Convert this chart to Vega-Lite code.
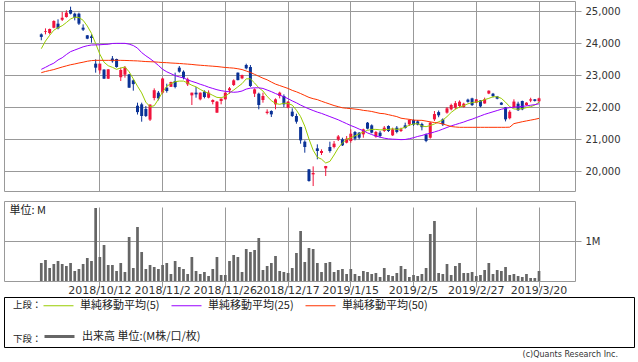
{
"$schema": "https://vega.github.io/schema/vega-lite/v6.json",
"padding": {"left": 3, "top": 0, "right": 0, "bottom": 0},
"background": "white",
"datasets": {"k": [
{"d":"2018/9/20","o":24270,"h":24300,"l":24085,"c":24190,"v":0.45,"m5":23822,"m25":23177,"m50":23073},
{"d":"2018/9/21","o":24355,"h":24458,"l":24270,"c":24375,"v":0.525,"m5":24060,"m25":23240,"m50":23110},
{"d":"2018/9/25","o":24312,"h":24450,"l":24270,"c":24437,"v":0.325,"m5":24240,"m25":23310,"m50":23140},
{"d":"2018/9/26","o":24479,"h":24710,"l":24460,"c":24687,"v":0.425,"m5":24400,"m25":23370,"m50":23170},
{"d":"2018/9/27","o":24604,"h":24740,"l":24427,"c":24458,"v":0.5,"m5":24480,"m25":23470,"m50":23210},
{"d":"2018/9/28","o":24729,"h":24968,"l":24687,"c":24792,"v":0.425,"m5":24540,"m25":23540,"m50":23250},
{"d":"2018/10/1","o":24812,"h":25021,"l":24792,"c":24948,"v":0.375,"m5":24640,"m25":23640,"m50":23285},
{"d":"2018/10/2","o":25031,"h":25135,"l":24895,"c":24916,"v":0.45,"m5":24750,"m25":23730,"m50":23320},
{"d":"2018/10/3","o":24916,"h":24948,"l":24708,"c":24792,"v":0.25,"m5":24810,"m25":23780,"m50":23345},
{"d":"2018/10/4","o":24916,"h":24948,"l":24562,"c":24604,"v":0.3,"m5":24795,"m25":23830,"m50":23375},
{"d":"2018/10/5","o":24479,"h":24583,"l":24375,"c":24416,"v":0.425,"m5":24710,"m25":23880,"m50":23400},
{"d":"2018/10/9","o":24240,"h":24250,"l":24120,"c":24135,"v":0.575,"m5":24530,"m25":23915,"m50":23430},
{"d":"2018/10/10","o":24208,"h":24270,"l":24010,"c":24156,"v":0.5,"m5":24300,"m25":23937,"m50":23450},
{"d":"2018/10/11","o":23354,"h":23489,"l":23073,"c":23229,"v":1.825,"m5":23980,"m25":23940,"m50":23458},
{"d":"2018/10/12","o":23145,"h":23354,"l":23041,"c":23354,"v":0.6,"m5":23650,"m25":23945,"m50":23458},
{"d":"2018/10/15","o":23170,"h":23177,"l":22875,"c":22885,"v":0.9,"m5":23400,"m25":23955,"m50":23458},
{"d":"2018/10/16","o":22885,"h":23185,"l":22875,"c":23177,"v":0.4,"m5":23290,"m25":23960,"m50":23458},
{"d":"2018/10/17","o":23515,"h":23593,"l":23385,"c":23430,"v":0.4,"m5":23240,"m25":23985,"m50":23458},
{"d":"2018/10/18","o":23500,"h":23510,"l":23229,"c":23250,"v":0.25,"m5":23177,"m25":23989,"m50":23458},
{"d":"2018/10/19","o":22930,"h":23229,"l":22812,"c":23156,"v":0.45,"m5":23220,"m25":23989,"m50":23458},
{"d":"2018/10/22","o":23010,"h":23281,"l":22916,"c":23229,"v":0.225,"m5":23250,"m25":23989,"m50":23455},
{"d":"2018/10/23","o":23020,"h":23030,"l":22595,"c":22604,"v":1.1,"m5":23100,"m25":23965,"m50":23450},
{"d":"2018/10/24","o":22833,"h":22864,"l":22510,"c":22715,"v":0.325,"m5":22880,"m25":23920,"m50":23445},
{"d":"2018/10/25","o":22040,"h":22135,"l":21765,"c":21840,"v":1.35,"m5":22650,"m25":23840,"m50":23440},
{"d":"2018/10/26","o":22083,"h":22135,"l":21541,"c":21718,"v":0.725,"m5":22440,"m25":23700,"m50":23430},
{"d":"2018/10/29","o":21940,"h":22031,"l":21687,"c":21718,"v":0.3,"m5":22150,"m25":23600,"m50":23420},
{"d":"2018/10/30","o":21605,"h":22083,"l":21562,"c":22075,"v":0.4,"m5":22010,"m25":23510,"m50":23415},
{"d":"2018/10/31","o":22280,"h":22583,"l":22208,"c":22525,"v":0.35,"m5":22040,"m25":23410,"m50":23410},
{"d":"2018/11/1","o":22448,"h":22500,"l":22208,"c":22270,"v":0.3,"m5":22240,"m25":23300,"m50":23400},
{"d":"2018/11/2","o":22448,"h":22916,"l":22416,"c":22890,"v":0.4,"m5":22470,"m25":23180,"m50":23390},
{"d":"2018/11/5","o":22604,"h":22729,"l":22448,"c":22500,"v":0.45,"m5":22650,"m25":23100,"m50":23385},
{"d":"2018/11/6","o":22630,"h":22791,"l":22630,"c":22781,"v":0.175,"m5":22730,"m25":23041,"m50":23375},
{"d":"2018/11/7","o":22812,"h":23073,"l":22583,"c":22625,"v":0.5,"m5":22790,"m25":22980,"m50":23368},
{"d":"2018/11/8","o":23229,"h":23281,"l":23073,"c":23104,"v":0.35,"m5":22810,"m25":22940,"m50":23360},
{"d":"2018/11/9","o":23104,"h":23145,"l":22864,"c":22916,"v":0.3,"m5":22810,"m25":22910,"m50":23350},
{"d":"2018/11/12","o":22708,"h":22916,"l":22656,"c":22864,"v":0.175,"m5":22750,"m25":22850,"m50":23340},
{"d":"2018/11/13","o":22364,"h":22448,"l":22062,"c":22448,"v":0.6,"m5":22680,"m25":22800,"m50":23330},
{"d":"2018/11/14","o":22448,"h":22625,"l":22291,"c":22395,"v":0.25,"m5":22630,"m25":22760,"m50":23315},
{"d":"2018/11/15","o":22239,"h":22455,"l":22208,"c":22448,"v":0.175,"m5":22550,"m25":22710,"m50":23305},
{"d":"2018/11/16","o":22479,"h":22520,"l":22270,"c":22312,"v":0.225,"m5":22480,"m25":22670,"m50":23295},
{"d":"2018/11/19","o":22291,"h":22520,"l":22270,"c":22448,"v":0.125,"m5":22430,"m25":22620,"m50":23285},
{"d":"2018/11/20","o":22156,"h":22239,"l":22083,"c":22218,"v":0.3,"m5":22364,"m25":22580,"m50":23275},
{"d":"2018/11/21","o":21823,"h":22187,"l":21815,"c":22166,"v":0.6,"m5":22300,"m25":22540,"m50":23265},
{"d":"2018/11/22","o":22187,"h":22265,"l":22083,"c":22260,"v":0.15,"m5":22291,"m25":22510,"m50":23250},
{"d":"2018/11/26","o":22239,"h":22455,"l":22235,"c":22448,"v":0.15,"m5":22330,"m25":22490,"m50":23235},
{"d":"2018/11/27","o":22520,"h":22625,"l":22416,"c":22583,"v":0.5,"m5":22440,"m25":22475,"m50":23225},
{"d":"2018/11/28","o":22687,"h":22864,"l":22656,"c":22833,"v":0.65,"m5":22530,"m25":22460,"m50":23215},
{"d":"2018/11/29","o":23073,"h":23080,"l":22833,"c":22840,"v":0.6,"m5":22630,"m25":22470,"m50":23195},
{"d":"2018/11/30","o":22895,"h":23010,"l":22870,"c":23000,"v":0.225,"m5":22730,"m25":22500,"m50":23170},
{"d":"2018/12/3","o":23312,"h":23354,"l":23177,"c":23208,"v":0.8,"m5":22880,"m25":22560,"m50":23125},
{"d":"2018/12/4","o":23250,"h":23312,"l":22625,"c":22656,"v":0.725,"m5":22880,"m25":22590,"m50":23080},
{"d":"2018/12/5","o":22416,"h":22583,"l":22312,"c":22552,"v":0.775,"m5":22750,"m25":22600,"m50":23020},
{"d":"2018/12/6","o":22416,"h":22448,"l":21927,"c":22062,"v":1.075,"m5":22600,"m25":22600,"m50":22960},
{"d":"2018/12/7","o":22218,"h":22448,"l":22135,"c":22343,"v":0.275,"m5":22500,"m25":22580,"m50":22900},
{"d":"2018/12/10","o":21812,"h":21927,"l":21770,"c":21854,"v":0.375,"m5":22330,"m25":22530,"m50":22850},
{"d":"2018/12/11","o":21875,"h":21896,"l":21687,"c":21770,"v":0.45,"m5":22200,"m25":22480,"m50":22780},
{"d":"2018/12/12","o":22083,"h":22270,"l":21927,"c":22239,"v":0.625,"m5":22110,"m25":22420,"m50":22715},
{"d":"2018/12/13","o":22343,"h":22479,"l":22270,"c":22448,"v":0.25,"m5":22083,"m25":22370,"m50":22670},
{"d":"2018/12/14","o":22343,"h":22395,"l":22000,"c":22083,"v":0.225,"m5":22120,"m25":22320,"m50":22625},
{"d":"2018/12/17","o":21979,"h":22187,"l":21958,"c":22166,"v":0.2,"m5":22110,"m25":22260,"m50":22580},
{"d":"2018/12/18","o":21854,"h":21958,"l":21687,"c":21718,"v":0.325,"m5":22060,"m25":22190,"m50":22520},
{"d":"2018/12/19","o":21718,"h":21791,"l":21479,"c":21541,"v":0.7,"m5":21900,"m25":22130,"m50":22475},
{"d":"2018/12/20","o":21375,"h":21380,"l":20854,"c":20958,"v":1.25,"m5":21700,"m25":22060,"m50":22420},
{"d":"2018/12/21","o":20916,"h":20958,"l":20572,"c":20750,"v":0.475,"m5":21400,"m25":22000,"m50":22360},
{"d":"2018/12/25","o":20052,"h":20060,"l":19666,"c":19687,"v":0.825,"m5":21000,"m25":21940,"m50":22300},
{"d":"2018/12/26","o":19895,"h":20145,"l":19530,"c":19937,"v":0.8,"m5":20650,"m25":21890,"m50":22260},
{"d":"2018/12/27","o":20708,"h":20833,"l":20364,"c":20625,"v":0.45,"m5":20430,"m25":21840,"m50":22230},
{"d":"2018/12/28","o":20562,"h":20677,"l":20500,"c":20625,"v":0.225,"m5":20370,"m25":21800,"m50":22180},
{"d":"2019/1/4","o":20083,"h":20160,"l":19843,"c":20156,"v":0.45,"m5":20250,"m25":21750,"m50":22135},
{"d":"2019/1/7","o":20750,"h":20916,"l":20572,"c":20625,"v":0.475,"m5":20300,"m25":21700,"m50":22090},
{"d":"2019/1/8","o":20750,"h":20937,"l":20708,"c":20854,"v":0.225,"m5":20500,"m25":21650,"m50":22045},
{"d":"2019/1/9","o":20980,"h":21125,"l":20937,"c":21080,"v":0.275,"m5":20720,"m25":21600,"m50":22010},
{"d":"2019/1/10","o":20989,"h":21041,"l":20781,"c":20802,"v":0.3,"m5":20880,"m25":21540,"m50":21975},
{"d":"2019/1/11","o":20885,"h":21093,"l":20864,"c":21010,"v":0.175,"m5":20990,"m25":21480,"m50":21960},
{"d":"2019/1/15","o":20937,"h":21302,"l":20885,"c":21166,"v":0.3,"m5":21040,"m25":21420,"m50":21950},
{"d":"2019/1/16","o":21218,"h":21250,"l":20958,"c":21010,"v":0.175,"m5":21100,"m25":21370,"m50":21935},
{"d":"2019/1/17","o":21198,"h":21218,"l":20989,"c":21041,"v":0.125,"m5":21160,"m25":21310,"m50":21920},
{"d":"2019/1/18","o":21145,"h":21323,"l":21041,"c":21302,"v":0.25,"m5":21220,"m25":21260,"m50":21895},
{"d":"2019/1/21","o":21510,"h":21531,"l":21302,"c":21323,"v":0.225,"m5":21270,"m25":21190,"m50":21880},
{"d":"2019/1/22","o":21427,"h":21458,"l":21177,"c":21198,"v":0.175,"m5":21300,"m25":21140,"m50":21860},
{"d":"2019/1/23","o":21073,"h":21250,"l":21041,"c":21218,"v":0.2,"m5":21300,"m25":21093,"m50":21830},
{"d":"2019/1/24","o":21198,"h":21250,"l":21041,"c":21093,"v":0.1,"m5":21285,"m25":21060,"m50":21800},
{"d":"2019/1/25","o":21250,"h":21406,"l":21218,"c":21354,"v":0.325,"m5":21290,"m25":21025,"m50":21790},
{"d":"2019/1/28","o":21406,"h":21427,"l":21218,"c":21250,"v":0.15,"m5":21300,"m25":21005,"m50":21760},
{"d":"2019/1/29","o":21114,"h":21354,"l":21093,"c":21302,"v":0.125,"m5":21320,"m25":20995,"m50":21730},
{"d":"2019/1/30","o":21354,"h":21406,"l":21177,"c":21218,"v":0.2,"m5":21300,"m25":20989,"m50":21700},
{"d":"2019/1/31","o":21250,"h":21354,"l":21218,"c":21302,"v":0.375,"m5":21320,"m25":20980,"m50":21650},
{"d":"2019/2/1","o":21427,"h":21510,"l":21323,"c":21343,"v":0.3,"m5":21370,"m25":20985,"m50":21630},
{"d":"2019/2/4","o":21458,"h":21614,"l":21406,"c":21593,"v":0.1,"m5":21430,"m25":21010,"m50":21614},
{"d":"2019/2/5","o":21593,"h":21614,"l":21406,"c":21450,"v":0.15,"m5":21470,"m25":21040,"m50":21590},
{"d":"2019/2/6","o":21550,"h":21593,"l":21427,"c":21450,"v":0.125,"m5":21480,"m25":21080,"m50":21585},
{"d":"2019/2/7","o":21470,"h":21510,"l":21270,"c":21370,"v":0.175,"m5":21406,"m25":21110,"m50":21583},
{"d":"2019/2/8","o":21140,"h":21170,"l":20900,"c":20940,"v":0.325,"m5":21385,"m25":21150,"m50":21560},
{"d":"2019/2/12","o":21040,"h":21540,"l":21010,"c":21510,"v":1.175,"m5":21420,"m25":21180,"m50":21535},
{"d":"2019/2/13","o":21614,"h":21875,"l":21560,"c":21780,"v":1.5,"m5":21470,"m25":21220,"m50":21515},
{"d":"2019/2/14","o":21840,"h":21890,"l":21680,"c":21740,"v":0.2,"m5":21540,"m25":21260,"m50":21500},
{"d":"2019/2/15","o":21614,"h":21645,"l":21406,"c":21458,"v":0.175,"m5":21590,"m25":21310,"m50":21470},
{"d":"2019/2/18","o":21823,"h":22000,"l":21791,"c":21958,"v":0.425,"m5":21700,"m25":21360,"m50":21430},
{"d":"2019/2/19","o":21927,"h":22104,"l":21895,"c":22062,"v":0.15,"m5":21830,"m25":21410,"m50":21390},
{"d":"2019/2/20","o":21979,"h":22187,"l":21927,"c":22120,"v":0.375,"m5":21930,"m25":21450,"m50":21375},
{"d":"2019/2/21","o":22031,"h":22208,"l":21979,"c":22166,"v":0.45,"m5":22000,"m25":21490,"m50":21365},
{"d":"2019/2/22","o":22000,"h":22135,"l":21980,"c":22104,"v":0.2,"m5":22040,"m25":21530,"m50":21365},
{"d":"2019/2/25","o":22230,"h":22260,"l":22135,"c":22160,"v":0.2,"m5":22100,"m25":21580,"m50":21365},
{"d":"2019/2/26","o":22270,"h":22290,"l":22031,"c":22060,"v":0.225,"m5":22135,"m25":21620,"m50":21365},
{"d":"2019/2/27","o":22135,"h":22250,"l":22120,"c":22240,"v":0.125,"m5":22160,"m25":21670,"m50":21365},
{"d":"2019/2/28","o":22208,"h":22215,"l":21990,"c":22020,"v":0.15,"m5":22180,"m25":21720,"m50":21365},
{"d":"2019/3/1","o":22110,"h":22292,"l":22104,"c":22240,"v":0.275,"m5":22230,"m25":21770,"m50":21365},
{"d":"2019/3/4","o":22420,"h":22520,"l":22400,"c":22510,"v":0.45,"m5":22270,"m25":21810,"m50":21365},
{"d":"2019/3/5","o":22416,"h":22440,"l":22300,"c":22340,"v":0.175,"m5":22320,"m25":21850,"m50":21365},
{"d":"2019/3/6","o":22330,"h":22345,"l":22240,"c":22260,"v":0.275,"m5":22320,"m25":21890,"m50":21365},
{"d":"2019/3/7","o":22135,"h":22150,"l":22060,"c":22070,"v":0.25,"m5":22270,"m25":21930,"m50":21365},
{"d":"2019/3/8","o":21990,"h":22000,"l":21550,"c":21614,"v":0.35,"m5":22150,"m25":21960,"m50":21365},
{"d":"2019/3/11","o":21650,"h":21900,"l":21614,"c":21850,"v":0.15,"m5":22010,"m25":21980,"m50":21370},
{"d":"2019/3/12","o":22000,"h":22240,"l":21969,"c":22170,"v":0.175,"m5":21940,"m25":21995,"m50":21480},
{"d":"2019/3/13","o":22104,"h":22166,"l":21875,"c":21900,"v":0.125,"m5":21930,"m25":22005,"m50":21510},
{"d":"2019/3/14","o":22187,"h":22200,"l":21900,"c":21927,"v":0.1,"m5":21950,"m25":22020,"m50":21540},
{"d":"2019/3/15","o":22062,"h":22150,"l":22040,"c":22135,"v":0.175,"m5":21980,"m25":22035,"m50":21565},
{"d":"2019/3/18","o":22200,"h":22290,"l":22150,"c":22240,"v":0.075,"m5":22010,"m25":22055,"m50":21590},
{"d":"2019/3/19","o":22240,"h":22250,"l":22170,"c":22190,"v":0.075,"m5":22060,"m25":22075,"m50":21615},
{"d":"2019/3/20","o":22180,"h":22290,"l":22160,"c":22270,"v":0.25,"m5":22150,"m25":22100,"m50":21645}
]},
"config": {
  "font": "DejaVu Sans",
  "view": {"stroke": "#999999", "strokeWidth": 1},
  "axis": {"gridColor": "#999999", "gridOpacity": 1, "gridWidth": 1, "tickColor": "#999999", "domainColor": "#999999", "labelColor": "#333333", "labelFont": "DejaVu Sans"},
  "legend": {"orient": "none", "direction": "horizontal", "titleOrient": "left", "titleAnchor": "middle", "titleBaseline": "middle", "symbolType": "stroke", "padding": 0, "labelOffset": 6, "columnPadding": 9, "titlePadding": 1, "labelFont": "Noto Sans CJK JP", "labelFontSize": 11, "labelColor": "#222222", "titleFont": "Noto Sans CJK JP", "titleFontSize": 9.5, "titleFontWeight": "normal", "titleColor": "#222222"}
},
"bounds": "flush",
"spacing": 10,
"resolve": {"scale": {"color": "independent", "y": "independent"}, "legend": {"color": "independent"}},
"vconcat": [
{
  "width": 571, "height": 190,
  "data": {"name": "k"},
  "encoding": {
    "x": {"field": "d", "type": "ordinal", "sort": null,
          "scale": {"type": "band", "paddingInner": 0, "paddingOuter": 0.26, "align": 0.8,
            "domain": ["L1","L2","L3","L4","L5","L6","L7","L8","2018/9/20","2018/9/21","2018/9/25","2018/9/26","2018/9/27","2018/9/28","2018/10/1","2018/10/2","2018/10/3","2018/10/4","2018/10/5","2018/10/9","2018/10/10","2018/10/11","2018/10/12","2018/10/15","2018/10/16","2018/10/17","2018/10/18","2018/10/19","2018/10/22","2018/10/23","2018/10/24","2018/10/25","2018/10/26","2018/10/29","2018/10/30","2018/10/31","2018/11/1","2018/11/2","2018/11/5","2018/11/6","2018/11/7","2018/11/8","2018/11/9","2018/11/12","2018/11/13","2018/11/14","2018/11/15","2018/11/16","2018/11/19","2018/11/20","2018/11/21","2018/11/22","2018/11/26","2018/11/27","2018/11/28","2018/11/29","2018/11/30","2018/12/3","2018/12/4","2018/12/5","2018/12/6","2018/12/7","2018/12/10","2018/12/11","2018/12/12","2018/12/13","2018/12/14","2018/12/17","2018/12/18","2018/12/19","2018/12/20","2018/12/21","2018/12/25","2018/12/26","2018/12/27","2018/12/28","2019/1/4","2019/1/7","2019/1/8","2019/1/9","2019/1/10","2019/1/11","2019/1/15","2019/1/16","2019/1/17","2019/1/18","2019/1/21","2019/1/22","2019/1/23","2019/1/24","2019/1/25","2019/1/28","2019/1/29","2019/1/30","2019/1/31","2019/2/1","2019/2/4","2019/2/5","2019/2/6","2019/2/7","2019/2/8","2019/2/12","2019/2/13","2019/2/14","2019/2/15","2019/2/18","2019/2/19","2019/2/20","2019/2/21","2019/2/22","2019/2/25","2019/2/26","2019/2/27","2019/2/28","2019/3/1","2019/3/4","2019/3/5","2019/3/6","2019/3/7","2019/3/8","2019/3/11","2019/3/12","2019/3/13","2019/3/14","2019/3/15","2019/3/18","2019/3/19","2019/3/20","R1","R2","R3","R4","R5","R6","R7","R8"]},
          "axis": {"orient": "bottom", "values": ["2018/10/12","2018/11/2","2018/11/26","2018/12/17","2019/1/15","2019/2/5","2019/2/27","2019/3/20"], "grid": true, "labels": false, "ticks": false, "domain": false, "title": null, "bandPosition": 0.5}}
  },
  "layer": [
    {"mark": {"type": "rule", "strokeWidth": 1},
     "encoding": {
       "y": {"field": "l", "type": "quantitative", "title": null, "scale": {"domain": [19375, 25312.5], "zero": false, "nice": false},
             "axis": {"orient": "right", "values": [20000, 21000, 22000, 23000, 24000, 25000], "format": ",d", "grid": true, "tickSize": 6, "domain": false, "labelFontSize": 10, "labelPadding": 4, "labelOverlap": false, "labelBound": false, "title": null}},
       "y2": {"field": "h"},
       "color": {"condition": {"test": "datum.c >= datum.o", "value": "#f0143c"}, "value": "#0a3296"}
     }},
    {"mark": {"type": "bar", "width": {"band": 0.72}},
     "encoding": {
       "y": {"field": "o", "type": "quantitative", "title": null,
             "axis": {"orient": "right", "values": [20000, 21000, 22000, 23000, 24000, 25000], "format": ",d", "grid": true, "tickSize": 6, "domain": false, "labelFontSize": 10, "labelPadding": 4, "labelOverlap": false, "labelBound": false, "title": null}},
       "y2": {"field": "c"},
       "color": {"condition": {"test": "datum.c >= datum.o", "value": "#f0143c"}, "value": "#0a3296"}
     }},
    {"mark": {"type": "line", "strokeWidth": 1},
     "encoding": {
       "y": {"field": "m5", "type": "quantitative", "title": null,
             "axis": {"orient": "right", "values": [20000, 21000, 22000, 23000, 24000, 25000], "format": ",d", "grid": true, "tickSize": 6, "domain": false, "labelFontSize": 10, "labelPadding": 4, "labelOverlap": false, "labelBound": false, "title": null}},
       "color": {"datum": "単純移動平均(5)",
         "scale": {"domain": ["単純移動平均(5)", "単純移動平均(25)", "単純移動平均(50)"], "range": ["#99cc00", "#9900ff", "#ff3300"]},
         "legend": {"title": "上段：", "legendX": 9, "legendY": 289, "symbolSize": 900, "symbolStrokeWidth": 1,
           "encode": {"title": {"update": {"dy": {"value": 5}}}}}}
     }},
    {"mark": {"type": "line", "strokeWidth": 1},
     "encoding": {
       "y": {"field": "m25", "type": "quantitative", "title": null,
             "axis": {"orient": "right", "values": [20000, 21000, 22000, 23000, 24000, 25000], "format": ",d", "grid": true, "tickSize": 6, "domain": false, "labelFontSize": 10, "labelPadding": 4, "labelOverlap": false, "labelBound": false, "title": null}},
       "color": {"datum": "単純移動平均(25)"}
     }},
    {"mark": {"type": "line", "strokeWidth": 1},
     "encoding": {
       "y": {"field": "m50", "type": "quantitative", "title": null,
             "axis": {"orient": "right", "values": [20000, 21000, 22000, 23000, 24000, 25000], "format": ",d", "grid": true, "tickSize": 6, "domain": false, "labelFontSize": 10, "labelPadding": 4, "labelOverlap": false, "labelBound": false, "title": null}},
       "color": {"datum": "単純移動平均(50)"}
     }}
  ]
},
{
  "width": 571, "height": 86,
  "data": {"name": "k"},
  "view": {"stroke": null},
  "resolve": {"axis": {"x": "independent", "y": "independent"}},
  "layer": [
    {"mark": {"type": "bar", "width": {"band": 0.65}},
     "encoding": {
       "x": {"field": "d", "type": "ordinal", "sort": null,
             "scale": {"type": "band", "paddingInner": 0, "paddingOuter": 0.26, "align": 0.8,
               "domain": ["L1","L2","L3","L4","L5","L6","L7","L8","2018/9/20","2018/9/21","2018/9/25","2018/9/26","2018/9/27","2018/9/28","2018/10/1","2018/10/2","2018/10/3","2018/10/4","2018/10/5","2018/10/9","2018/10/10","2018/10/11","2018/10/12","2018/10/15","2018/10/16","2018/10/17","2018/10/18","2018/10/19","2018/10/22","2018/10/23","2018/10/24","2018/10/25","2018/10/26","2018/10/29","2018/10/30","2018/10/31","2018/11/1","2018/11/2","2018/11/5","2018/11/6","2018/11/7","2018/11/8","2018/11/9","2018/11/12","2018/11/13","2018/11/14","2018/11/15","2018/11/16","2018/11/19","2018/11/20","2018/11/21","2018/11/22","2018/11/26","2018/11/27","2018/11/28","2018/11/29","2018/11/30","2018/12/3","2018/12/4","2018/12/5","2018/12/6","2018/12/7","2018/12/10","2018/12/11","2018/12/12","2018/12/13","2018/12/14","2018/12/17","2018/12/18","2018/12/19","2018/12/20","2018/12/21","2018/12/25","2018/12/26","2018/12/27","2018/12/28","2019/1/4","2019/1/7","2019/1/8","2019/1/9","2019/1/10","2019/1/11","2019/1/15","2019/1/16","2019/1/17","2019/1/18","2019/1/21","2019/1/22","2019/1/23","2019/1/24","2019/1/25","2019/1/28","2019/1/29","2019/1/30","2019/1/31","2019/2/1","2019/2/4","2019/2/5","2019/2/6","2019/2/7","2019/2/8","2019/2/12","2019/2/13","2019/2/14","2019/2/15","2019/2/18","2019/2/19","2019/2/20","2019/2/21","2019/2/22","2019/2/25","2019/2/26","2019/2/27","2019/2/28","2019/3/1","2019/3/4","2019/3/5","2019/3/6","2019/3/7","2019/3/8","2019/3/11","2019/3/12","2019/3/13","2019/3/14","2019/3/15","2019/3/18","2019/3/19","2019/3/20","R1","R2","R3","R4","R5","R6","R7","R8"]},
             "axis": {"orient": "bottom", "offset": -6, "values": ["2018/10/12","2018/11/2","2018/11/26","2018/12/17","2019/1/15","2019/2/5","2019/2/27","2019/3/20"], "grid": true, "ticks": false, "domain": true, "labelFontSize": 11, "labelPadding": 3, "labelOverlap": false, "labelBound": false, "labelFlush": false, "labelAngle": 0, "title": null, "bandPosition": 0.5}},
       "y": {"field": "v", "type": "quantitative", "scale": {"domain": [0, 2], "range": [80, 0], "nice": false, "zero": true},
             "axis": {"orient": "right", "values": [1], "labelExpr": "datum.value + 'M'", "grid": true, "tickSize": 6, "domain": true, "labelFontSize": 10, "labelPadding": 4, "title": null}},
       "color": {"datum": "出来高 単位:(M株/口/枚)", "scale": {"range": ["#666666"]},
         "legend": {"title": "下段：", "legendX": 9, "legendY": 119, "symbolSize": 900, "symbolStrokeWidth": 3, "symbolStrokeColor": "#666666",
           "encode": {"symbols": {"update": {"stroke": {"value": "#666666"}, "strokeWidth": {"value": 3}}}, "title": {"update": {"dy": {"value": 8}}}}}}
     }},
    {"mark": {"type": "bar", "opacity": 0},
     "encoding": {
       "x": {"field": "d", "type": "ordinal", "sort": null,
             "axis": {"orient": "top", "grid": false, "labels": false, "ticks": false, "domain": true, "title": null}},
       "y": {"field": "v", "type": "quantitative",
             "axis": {"orient": "left", "grid": false, "labels": false, "ticks": false, "domain": true, "title": "単位: M", "titleAngle": 0, "titleX": 5, "titleY": 9, "titleAlign": "left", "titleBaseline": "middle", "titleFont": "Noto Sans CJK JP", "titleFontSize": 11, "titleFontWeight": "normal", "titleColor": "#222222"}}
     }}
  ]
},
{
  "width": 630, "height": 50,
  "view": {"stroke": "#000000", "strokeWidth": 1},
  "data": {"values": [{}]},
  "mark": {"type": "text"},
  "encoding": {"text": {"value": ""}},
  "title": {"text": "(c)Quants Research Inc.", "orient": "bottom", "anchor": "end", "offset": 4, "dx": -16, "fontSize": 8, "fontWeight": "normal", "color": "#333333", "font": "DejaVu Sans"}
}
]
}
